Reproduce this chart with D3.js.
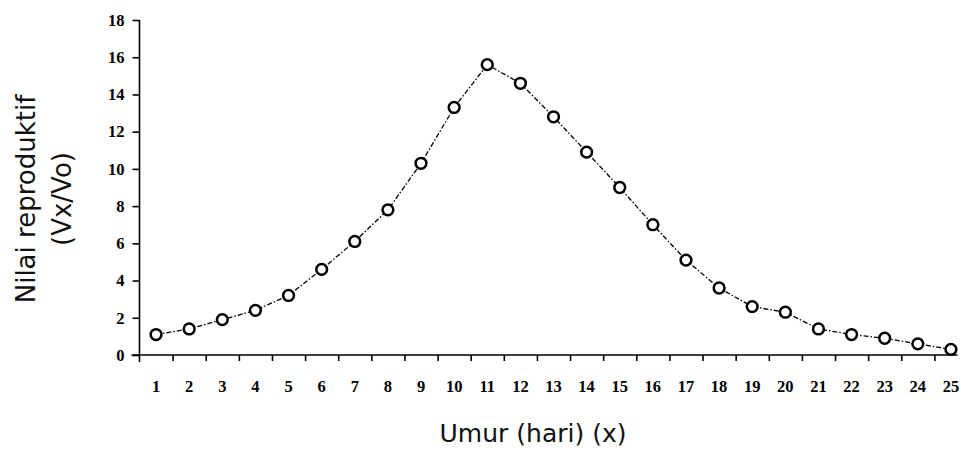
<!DOCTYPE html>
<html>
<head>
<meta charset="utf-8">
<script src="https://cdn.jsdelivr.net/npm/d3@7"></script>
<style>
  html, body { margin: 0; padding: 0; background: #fff; }
  svg { display: block; }
</style>
</head>
<body>
<svg id="chart" width="961" height="450"></svg>
<script>
// ---- data ----
const ages = [1,2,3,4,5,6,7,8,9,10,11,12,13,14,15,16,17,18,19,20,21,22,23,24,25];
const reproValues = [1.1, 1.4, 1.9, 2.4, 3.2, 4.6, 6.1, 7.8, 10.3, 13.3, 15.6, 14.6, 12.8, 10.9, 9.0, 7.0, 5.1, 3.6, 2.6, 2.3, 1.4, 1.1, 0.9, 0.6, 0.3];
const yTickValues = [0, 2, 4, 6, 8, 10, 12, 14, 16, 18];
const xTickLabels = ages.map(String);
const xTitle = "Umur (hari) (x)";
const yTitleLines = ["Nilai reproduktif", "(Vx/Vo)"];

// ---- layout ----
const svg = d3.select("#chart");
const x = d3.scaleLinear().domain([0.5, 25.5]).range([139.5, 967.5]);
const y = d3.scaleLinear().domain([0, 18]).range([355, 20]);

const tickFont = "'Liberation Serif', 'Times New Roman', serif";
const titleFont = "'DejaVu Sans', Verdana, sans-serif";

// y axis
const yAxis = d3.axisLeft(y).tickValues(yTickValues).tickSize(7).tickPadding(8).tickFormat(d3.format("d"));
const gy = svg.append("g").attr("transform", `translate(${x(0.5)},0)`).call(yAxis);
gy.select(".domain").attr("d", `M0,${y(18)}V${y(0) + 7}`).attr("stroke", "#000").attr("stroke-width", 1.6);
gy.selectAll(".tick line").attr("stroke", "#000").attr("stroke-width", 1.6);
gy.selectAll(".tick text")
  .attr("font-family", tickFont).attr("font-weight", "bold").attr("font-size", 16.5).attr("fill", "#000");

// x axis: ticks sit between the ages, labels under the ages
const xTickPos = ages.slice(0, 24).map(d => d + 0.5);
const xAxis = d3.axisBottom(x).tickValues(xTickPos).tickSize(6).tickFormat("");
const gx = svg.append("g").attr("transform", `translate(0,${y(0)})`).call(xAxis);
gx.select(".domain").attr("d", `M${x(0.5) - 8},0H${x(25.2)}`).attr("stroke", "#000").attr("stroke-width", 1.6);
gx.selectAll(".tick line").attr("stroke", "#000").attr("stroke-width", 1.6);

svg.append("g").selectAll("text").data(ages).join("text")
  .attr("x", d => x(d))
  .attr("y", 392)
  .attr("text-anchor", "middle")
  .attr("font-family", tickFont).attr("font-weight", "bold").attr("font-size", 16.5)
  .attr("fill", "#000")
  .text((d, i) => xTickLabels[i]);

// line
const pts = ages.map((a, i) => [a, reproValues[i]]);
svg.append("path")
  .datum(pts)
  .attr("fill", "none")
  .attr("stroke", "#000")
  .attr("stroke-width", 1.3)
  .attr("stroke-dasharray", "5,2,1.5,2")
  .attr("d", d3.line().x(d => x(d[0])).y(d => y(d[1])));

// markers
svg.append("g").selectAll("circle").data(pts).join("circle")
  .attr("cx", d => x(d[0]))
  .attr("cy", d => y(d[1]))
  .attr("r", 5.4)
  .attr("fill", "#fff")
  .attr("stroke", "#000")
  .attr("stroke-width", 2.5);

// titles
svg.append("text")
  .attr("x", 533).attr("y", 442)
  .attr("text-anchor", "middle")
  .attr("font-family", titleFont).attr("font-size", 25).attr("fill", "#111")
  .text(xTitle);

const yT = svg.append("text")
  .attr("transform", "translate(35,199) rotate(-90)")
  .attr("text-anchor", "middle")
  .attr("font-family", titleFont).attr("font-size", 26).attr("fill", "#111");
yT.append("tspan").attr("x", 0).attr("y", 0).text(yTitleLines[0]);
yT.append("tspan").attr("x", 0).attr("y", 36).text(yTitleLines[1]);
</script>
</body>
</html>
